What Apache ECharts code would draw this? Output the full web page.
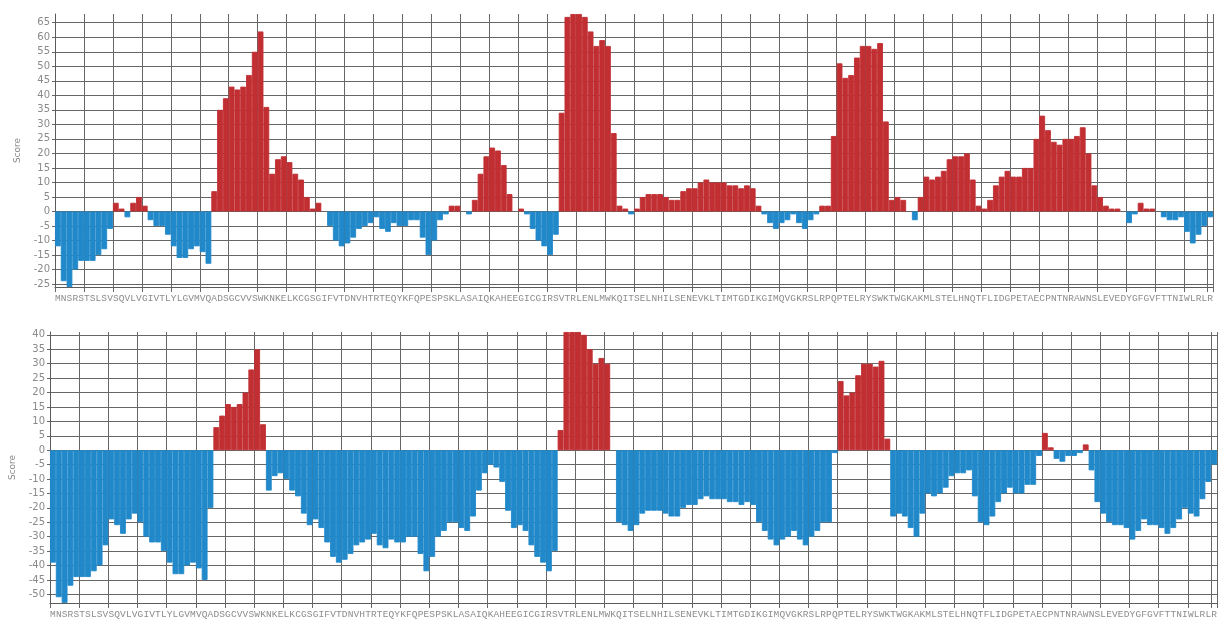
<!DOCTYPE html>
<html>
<head>
<meta charset="utf-8">
<title>Residue scores</title>
<script src="https://cdn.jsdelivr.net/npm/echarts@6.0.0/dist/echarts.min.js"></script>
<style>
  html, body { margin: 0; padding: 0; background: #fff; }
  #chart { width: 1225px; height: 619px; }
</style>
</head>
<body>
<div id="chart"></div>
<script>
// protein sequence, one bar per residue
const residues = "MNSRSTSLSVSQVLVGIVTLYLGVMVQADSGCVVSWKNKELKCGSGIFVTDNVHTRTEQYKFQPESPSKLASAIQKAHEEGICGIRSVTRLENLMWKQITSELNHILSENEVKLTIMTGDIKGIMQVGKRSLRPQPTELRYSWKTWGKAKMLSTELHNQTFLIDGPETAECPNTNRAWNSLEVEDYGFGVFTTNIWLRLR".split("");

const topScores = [
  -12, -24, -26, -20, -17, -17, -17, -15, -13, -6,
  3, 1, -2, 3, 5, 2, -3, -5, -5, -8,
  -12, -16, -16, -13, -12, -14, -18, 7, 35, 39,
  43, 42, 43, 47, 55, 62, 36, 13, 18, 19,
  17, 13, 11, 5, 1, 3, 0, -5, -10, -12,
  -11, -9, -6, -5, -4, -2, -6, -7, -4, -5,
  -5, -3, -3, -9, -15, -10, -3, -1, 2, 2,
  0, -1, 4, 13, 19, 22, 21, 16, 6, 0,
  1, -1, -6, -10, -12, -15, -8, 34, 67, 68,
  68, 67, 62, 57, 59, 57, 27, 2, 1, -1,
  1, 5, 6, 6, 6, 5, 4, 4, 7, 8,
  8, 10, 11, 10, 10, 10, 9, 9, 8, 9,
  8, 2, -1, -4, -6, -4, -3, -1, -4, -6,
  -3, -1, 2, 2, 26, 51, 46, 47, 53, 57,
  57, 56, 58, 31, 4, 5, 4, 0, -3, 5,
  12, 11, 12, 14, 18, 19, 19, 20, 11, 2,
  1, 4, 9, 12, 14, 12, 12, 15, 15, 25,
  33, 28, 24, 23, 25, 25, 26, 29, 20, 9,
  5, 2, 1, 1, 0, -4, -1, 3, 1, 1,
  0, -2, -3, -3, -2, -7, -11, -8, -5, -2
];

const bottomScores = [
  -39, -51, -53, -47, -44, -44, -44, -42, -40, -33,
  -24, -26, -29, -24, -22, -25, -30, -32, -32, -35,
  -39, -43, -43, -40, -39, -41, -45, -20, 8, 12,
  16, 15, 16, 20, 28, 35, 9, -14, -9, -8,
  -10, -14, -16, -22, -26, -24, -27, -32, -37, -39,
  -38, -36, -33, -32, -31, -29, -33, -34, -31, -32,
  -32, -30, -30, -36, -42, -37, -30, -28, -25, -25,
  -27, -28, -23, -14, -8, -5, -6, -11, -21, -27,
  -26, -28, -33, -37, -39, -42, -35, 7, 41, 41,
  41, 40, 35, 30, 32, 30, 0, -25, -26, -28,
  -26, -22, -21, -21, -21, -22, -23, -23, -20, -19,
  -19, -17, -16, -17, -17, -17, -18, -18, -19, -18,
  -19, -25, -28, -31, -33, -31, -30, -28, -31, -33,
  -30, -28, -25, -25, -1, 24, 19, 20, 26, 30,
  30, 29, 31, 4, -23, -22, -23, -27, -30, -22,
  -15, -16, -15, -13, -9, -8, -8, -7, -16, -25,
  -26, -23, -18, -15, -13, -15, -15, -12, -12, -2,
  6, 1, -3, -4, -2, -2, -1, 2, -7, -18,
  -22, -25, -26, -26, -27, -31, -28, -24, -26, -26,
  -27, -29, -27, -24, -20, -22, -23, -17, -11, -5
];

const topTicks = [-25, -20, -15, -10, -5, 0, 5, 10, 15, 20, 25, 30, 35, 40, 45, 50, 55, 60, 65];
const bottomTicks = [-50, -45, -40, -35, -30, -25, -20, -15, -10, -5, 0, 5, 10, 15, 20, 25, 30, 35, 40];

const posColor = "#c12f33";
const negColor = "#2189ca";
const gridColor = "#676767";

const chart = echarts.init(document.getElementById("chart"), null, { renderer: "canvas" });

function makeXAxis(gridIndex) {
  return {
    type: "category",
    gridIndex: gridIndex,
    data: residues,
    boundaryGap: true,
    axisLine: { show: true, onZero: false, lineStyle: { color: "#5a5a5a", width: 1 } },
    axisTick: { show: true, interval: 4, length: 5, lineStyle: { color: gridColor } },
    splitLine: { show: true, interval: 4, lineStyle: { color: gridColor, width: 1 } },
    axisLabel: {
      interval: 0,
      margin: 6,
      fontFamily: "'Liberation Mono', 'Courier New', monospace",
      fontSize: 9.5,
      color: "#8c8c8c"
    }
  };
}

function makeYAxis(gridIndex, ticks) {
  return {
    type: "value",
    gridIndex: gridIndex,
    min: "dataMin",
    max: "dataMax",
    name: "Score",
    nameLocation: "middle",
    nameGap: 33,
    nameTextStyle: { fontFamily: "DejaVu Sans, sans-serif", fontSize: 9, color: "#8a8a8a" },
    axisLine: { show: true, lineStyle: { color: "#5a5a5a" } },
    axisTick: { show: true, length: 3, customValues: ticks, lineStyle: { color: gridColor } },
    axisLabel: {
      customValues: ticks,
      margin: 5,
      fontFamily: "DejaVu Sans, sans-serif",
      fontSize: 10,
      color: "#8a8a8a"
    },
    splitLine: { show: true, lineStyle: { color: gridColor, width: 1 } }
  };
}

// colour each bar by the sign of its score; a thin border of the same
// colour closes the sub-pixel seams between neighbouring bars
// (zero scores get no border so they stay invisible)
function makeSeries(idx, values) {
  const data = values.map((v) => {
    const c = v >= 0 ? posColor : negColor;
    return { value: v, itemStyle: { color: c, borderColor: c, borderWidth: v === 0 ? 0 : 0.9 } };
  });
  return {
    type: "bar",
    xAxisIndex: idx,
    yAxisIndex: idx,
    data: data,
    barCategoryGap: "0%",
    barGap: "0%",
    animation: false
  };
}

const option = {
  backgroundColor: "#fff",
  animation: false,
  grid: [
    { left: 55, right: 12, top: 14, bottom: 332 },
    { left: 42, right: 8, top: 332, bottom: 12 }
  ],
  xAxis: [makeXAxis(0), makeXAxis(1)],
  yAxis: [makeYAxis(0, topTicks), makeYAxis(1, bottomTicks)],
  series: [makeSeries(0, topScores), makeSeries(1, bottomScores)]
};

chart.setOption(option);
window.addEventListener("resize", () => chart.resize());
</script>
</body>
</html>
